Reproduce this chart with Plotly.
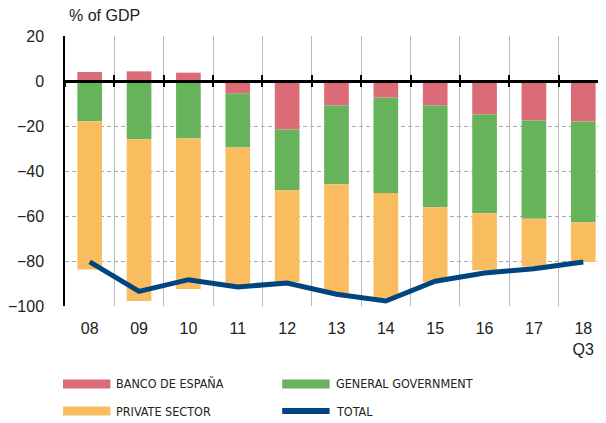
import plotly.graph_objects as go

categories = ["08", "09", "10", "11", "12", "13", "14", "15", "16", "17", "18<br>Q3"]
banco_espana = [4.0, 4.3, 3.7, -5.6, -21.6, -10.9, -7.4, -10.9, -14.9, -17.5, -18.0]
general_gov = [-17.9, -25.9, -25.5, -23.9, -27.0, -35.0, -42.4, -45.2, -43.9, -43.7, -44.8]
private_sector = [-65.9, -71.9, -66.9, -61.5, -40.7, -48.3, -46.9, -33.2, -25.3, -21.2, -17.6]
total = [-80.4, -93.5, -88.3, -91.5, -89.8, -94.8, -97.8, -89.0, -85.3, -83.4, -80.4]

y_ticks = [20, 0, -20, -40, -60, -80, -100]
series_names = ["BANCO DE ESPAÑA", "GENERAL GOVERNMENT", "PRIVATE SECTOR", "TOTAL"]

RED = "#DC6B78"
GREEN = "#67B35C"
ORANGE = "#F9BD60"
NAVY = "#00457F"
FONT = "Liberation Sans, Arial, Helvetica, sans-serif"
NARROW = "Liberation Sans Narrow, Arial Narrow, DejaVu Sans Condensed, sans-serif"

fig = go.Figure()
for vals, col, name in [(banco_espana, RED, series_names[0]),
                        (general_gov, GREEN, series_names[1]),
                        (private_sector, ORANGE, series_names[2])]:
    fig.add_trace(go.Bar(x=categories, y=vals, name=name, marker_color=col,
                         marker_line_width=0, width=0.5, showlegend=False))
fig.add_trace(go.Scatter(x=categories, y=total, name=series_names[3], mode="lines",
                         line=dict(color=NAVY, width=5), showlegend=False))
# empty helper traces so the overlay axes (boundary grid / zero line ticks) are drawn
for ax in ["x2", "x3"]:
    fig.add_trace(go.Scatter(x=[], y=[], xaxis=ax, yaxis="y", showlegend=False,
                             hoverinfo="skip"))

# page body has an 8px margin: shift the figure so it matches the reference frame
OFF = 8
W, H = 606 - OFF, 423 - OFF
ML, MT = 58 - OFF, 36 - OFF
pw, ph = 548, 270
MR = W - ML - pw
MB = H - MT - ph
xr = [-0.5, -0.5 + pw / 50.0]
zero_pos = (0 - (-100)) / 120.0
boundaries = [i - 0.5 for i in range(len(categories))]

fig.update_layout(
    width=W, height=H, margin=dict(l=ML, r=MR, t=MT, b=MB),
    paper_bgcolor="white", plot_bgcolor="white",
    barmode="relative", bargap=0.5,
    font=dict(family=FONT, size=16, color="#222222"),
    xaxis=dict(type="category", range=xr, showgrid=False, ticks="", showline=False,
               zeroline=False, ticklabelstandoff=11,
               tickfont=dict(size=16, family=FONT, color="#222222")),
    yaxis=dict(range=[-100, 20], tickvals=y_ticks, showgrid=True,
               gridcolor="#A8A8A8", gridwidth=1, griddash="4px,3px",
               zeroline=False, showline=True, linecolor="black", linewidth=1.5,
               ticks="", ticklabelstandoff=16,
               tickfont=dict(size=16, family=FONT, color="#222222")),
    xaxis2=dict(overlaying="x", anchor="free", position=zero_pos, type="linear",
                range=xr, tickvals=boundaries, showticklabels=False,
                showgrid=True, gridcolor="#B8B8B8", gridwidth=1,
                zeroline=False, showline=True, linecolor="black", linewidth=2.5,
                ticks="inside", ticklen=5, tickwidth=2, tickcolor="black",
                layer="above traces"),
    xaxis3=dict(overlaying="x", anchor="free", position=zero_pos, type="linear",
                range=xr, tickvals=boundaries, showticklabels=False, showgrid=False,
                zeroline=False, showline=False,
                ticks="outside", ticklen=5, tickwidth=2, tickcolor="black",
                layer="above traces"),
)

# "% of GDP" title
fig.add_annotation(text="% of GDP", xref="paper", yref="paper",
                   x=(60 - 58) / pw, y=(306 - 15) / ph,
                   xanchor="left", yanchor="middle", showarrow=False,
                   font=dict(size=16, family=FONT, color="#222222"))

# custom legend with wide swatches (positions in reference pixels)
legend_items = [
    (series_names[0], RED, 56, 384, "bar"),
    (series_names[1], GREEN, 278, 384, "bar"),
    (series_names[2], ORANGE, 56, 411, "bar"),
    (series_names[3], NAVY, 278, 411, "line"),
]
for name, col, px, py, kind in legend_items:
    x0 = (px - 58) / pw
    x1 = (px + 48 - 58) / pw
    yc = (306 - py) / ph
    hh = (4.5 if kind == "bar" else 3.0) / ph
    fig.add_shape(type="rect", xref="paper", yref="paper", x0=x0, x1=x1,
                  y0=yc - hh, y1=yc + hh, fillcolor=col, line_width=0)
    fig.add_annotation(text=name, xref="paper", yref="paper",
                       x=(px + 52 - 58) / pw, y=yc, xanchor="left", yanchor="middle",
                       showarrow=False,
                       font=dict(size=12.5, family=NARROW, color="#222222"))

fig.write_html("out.html")
